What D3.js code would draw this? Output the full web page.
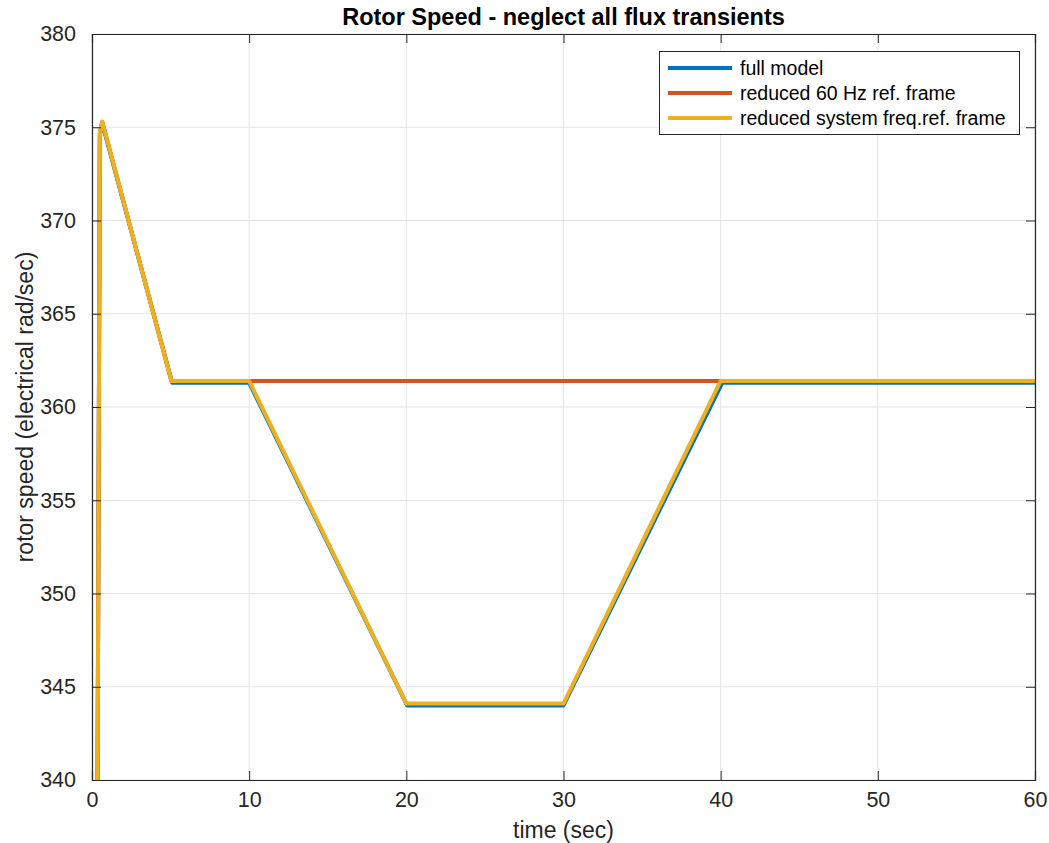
<!DOCTYPE html>
<html>
<head>
<meta charset="utf-8">
<script src="https://cdn.jsdelivr.net/npm/d3@7"></script>
<style>
  body { margin: 0; background: #fff; }
  text { font-family: "Liberation Sans", Arial, Helvetica, sans-serif; }
</style>
</head>
<body>
<svg id="chart" width="1049" height="843"></svg>
<script>
// Rotor speed traces (time in sec, speed in electrical rad/sec)
const fullModel = [
  [0.27, 320], [0.5, 374.6], [0.65, 375.2], [5.1, 361.3], [10.0, 361.3],
  [20.05, 344.0], [30.0, 344.0], [40.1, 361.3], [60, 361.3]
];
const reduced60Hz = [
  [0.27, 320], [0.5, 374.7], [0.65, 375.3], [5.05, 361.4], [60, 361.4]
];
const reducedSysFreq = [
  [0.27, 320], [0.5, 374.7], [0.65, 375.3], [5.05, 361.4], [10.0, 361.4],
  [20.0, 344.1], [30.0, 344.1], [40.0, 361.4], [60, 361.4]
];
const seriesNames = ["full model", "reduced 60 Hz ref. frame", "reduced system freq.ref. frame"];
const seriesColors = ["#0072BD", "#D95319", "#EDB120"];
const xTicks = [0, 10, 20, 30, 40, 50, 60];
const yTicks = [340, 345, 350, 355, 360, 365, 370, 375, 380];

const svg = d3.select("#chart");
const L = 92, R = 1035, T = 34, B = 780;
const x = d3.scaleLinear().domain([0, 60]).range([L, R]);
const y = d3.scaleLinear().domain([340, 380]).range([B, T]);

// grid
const grid = svg.append("g");
grid.selectAll(".gx").data(xTicks).join("line")
  .attr("x1", d => x(d)).attr("x2", d => x(d)).attr("y1", T).attr("y2", B)
  .attr("stroke", "#e5e5e5").attr("stroke-width", 1);
grid.selectAll(".gy").data(yTicks).join("line")
  .attr("x1", L).attr("x2", R).attr("y1", d => y(d)).attr("y2", d => y(d))
  .attr("stroke", "#e5e5e5").attr("stroke-width", 1);

// lines
svg.append("defs").append("clipPath").attr("id", "plotclip")
  .append("rect").attr("x", L).attr("y", T).attr("width", R - L).attr("height", B - T);
const line = d3.line().x(d => x(d[0])).y(d => y(d[1]));
const lines = svg.append("g").attr("clip-path", "url(#plotclip)");
[fullModel, reduced60Hz, reducedSysFreq].forEach((s, i) => {
  lines.append("path").datum(s).attr("d", line)
    .attr("fill", "none").attr("stroke", seriesColors[i])
    .attr("stroke-width", 4).attr("stroke-linejoin", "round");
});

// axes (ticks inside, box on all sides)
const axisColor = "#262626";
const tickLen = 9;
const ax = svg.append("g")
  .attr("transform", `translate(0,${B})`)
  .call(d3.axisBottom(x).tickValues(xTicks).tickSize(-tickLen).tickPadding(12));
const ay = svg.append("g")
  .attr("transform", `translate(${L},0)`)
  .call(d3.axisLeft(y).tickValues(yTicks).tickSize(-tickLen).tickPadding(16));
const axTop = svg.append("g")
  .attr("transform", `translate(0,${T})`)
  .call(d3.axisTop(x).tickValues(xTicks).tickSize(-tickLen).tickFormat(""));
const ayRight = svg.append("g")
  .attr("transform", `translate(${R},0)`)
  .call(d3.axisRight(y).tickValues(yTicks).tickSize(-tickLen).tickFormat(""));
[ax, ay, axTop, ayRight].forEach(g => {
  g.select(".domain").attr("stroke", axisColor).attr("stroke-width", 1.2);
  g.selectAll(".tick line").attr("stroke", axisColor).attr("stroke-width", 1);
  g.selectAll(".tick text").attr("fill", "#262626").style("font-size", "21.5px")
    .style("font-family", "'Liberation Sans', Arial, sans-serif");
});

// title & labels
svg.append("text").attr("x", (L + R) / 2).attr("y", 25).attr("text-anchor", "middle")
  .style("font-size", "23.5px").style("font-weight", "bold").attr("fill", "#000")
  .text("Rotor Speed - neglect all flux transients");
svg.append("text").attr("x", (L + R) / 2).attr("y", 838).attr("text-anchor", "middle")
  .style("font-size", "23px").attr("fill", "#262626").text("time (sec)");
svg.append("text").attr("transform", `translate(33,${(T + B) / 2}) rotate(-90)`)
  .attr("text-anchor", "middle").style("font-size", "23px").attr("fill", "#262626")
  .text("rotor speed (electrical rad/sec)");

// legend
const lg = svg.append("g");
lg.append("rect").attr("x", 659.5).attr("y", 51.5).attr("width", 360).attr("height", 83)
  .attr("fill", "#fff").attr("stroke", axisColor).attr("stroke-width", 1);
seriesNames.forEach((n, i) => {
  const yy = 68 + i * 25;
  lg.append("line").attr("x1", 668).attr("x2", 732).attr("y1", yy).attr("y2", yy)
    .attr("stroke", seriesColors[i]).attr("stroke-width", 4);
  lg.append("text").attr("x", 740).attr("y", yy + 7).style("font-size", "19.5px")
    .attr("fill", "#000").text(n);
});
</script>
</body>
</html>
